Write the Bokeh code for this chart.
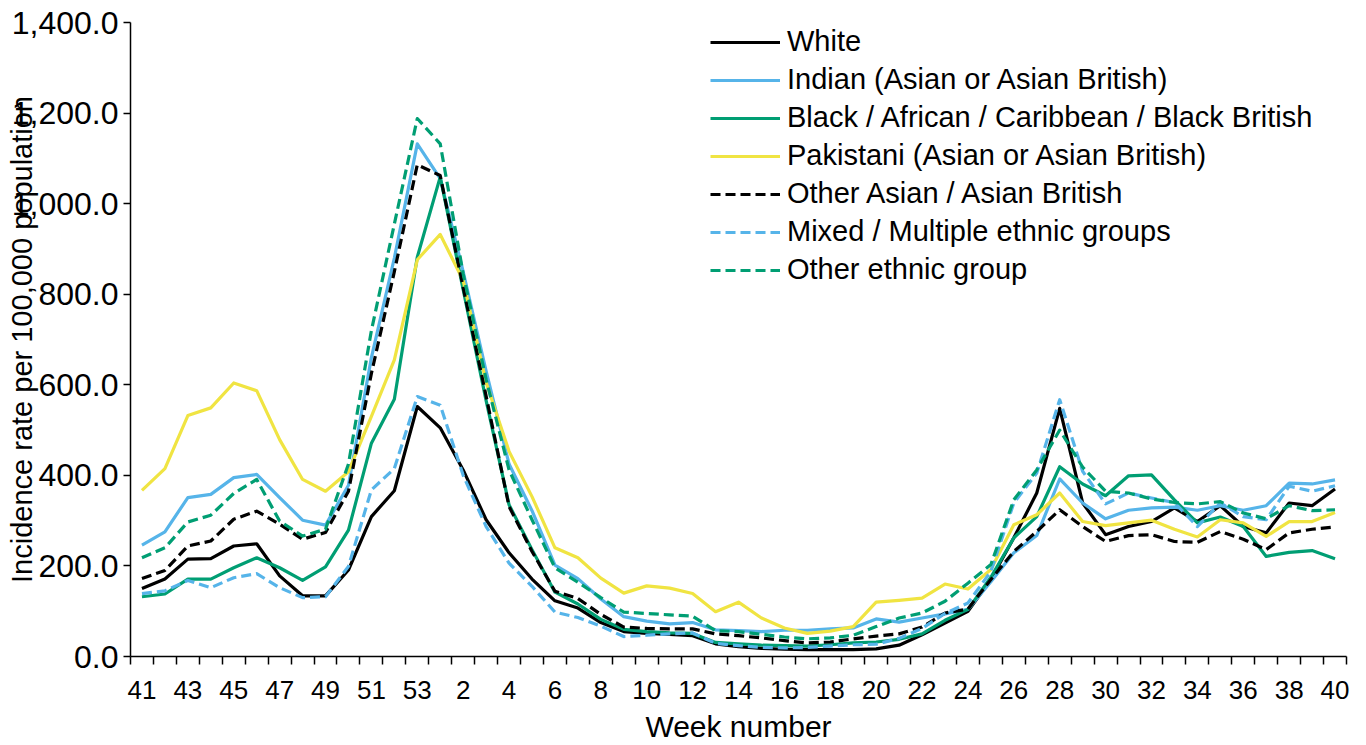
from bokeh.plotting import figure
from bokeh.models import FixedTicker, NumeralTickFormatter, Legend, LegendItem, Range1d
from bokeh.embed import file_html
from bokeh.resources import INLINE

weeks = [41, 42, 43, 44, 45, 46, 47, 48, 49, 50, 51, 52, 53,
         1, 2, 3, 4, 5, 6, 7, 8, 9, 10, 11, 12, 13, 14, 15, 16, 17, 18, 19, 20,
         21, 22, 23, 24, 25, 26, 27, 28, 29, 30, 31, 32, 33, 34, 35, 36, 37, 38, 39, 40]

white = [150, 171, 215, 216, 244, 249, 178, 134, 134,
         191, 309, 366, 552,
         505, 412, 302, 229, 171,
         123, 107, 75, 55, 51, 49, 46, 28, 22, 18, 16, 15, 15, 15,
         17, 25, 48, 74, 100, 170, 262, 361,
         548, 339, 269, 287, 298, 328, 298, 333, 287, 273, 339, 333, 370]

indian = [246, 275, 351, 358, 395, 402, 351, 301, 290,
          378, 660, 880, 1132,
          1055, 850, 630, 425, 322,
          202, 172, 127, 88, 78, 72, 75, 59, 57, 55, 58, 58, 61, 63,
          83, 76, 85, 94, 104, 165, 229, 267,
          392, 339, 304, 323, 328, 330, 323, 333, 323, 333, 383, 381, 390]

black = [132, 138, 171, 171, 196, 218, 196, 168, 198,
         279, 471, 568, 882,
         1059, 810, 565, 335, 236,
         142, 116, 82, 60, 55, 52, 51, 31, 28, 25, 24, 23, 26, 30,
         32, 38, 50, 80, 104, 175, 262, 309,
         419, 381, 355, 399, 401, 346, 295, 308, 287, 221, 230, 234, 216]

pakistani = [367, 415, 532, 549, 604, 587, 479, 391, 365,
             408, 530, 655, 876,
             932, 830, 605, 453, 353,
             240, 218, 173, 140, 156, 151, 139, 99, 120, 85, 63, 51, 56, 66,
             120, 124, 129, 160, 149, 192, 291, 313,
             361, 298, 289, 295, 301, 281, 264, 302, 295, 265, 298, 298, 318]

other_asian = [172, 190, 244, 255, 303, 321, 292, 259, 274,
               365, 625, 850, 1086,
               1062, 815, 575, 331, 232,
               144, 128, 93, 65, 62, 61, 61, 50, 46, 41, 35, 30, 32, 39,
               45, 50, 65, 96, 105, 170, 232, 276,
               324, 287, 254, 267, 269, 254, 252, 276, 259, 236, 273, 281, 286]

mixed = [139, 145, 168, 152, 174, 183, 152, 130, 132,
         199, 368, 415, 574,
         555, 400, 287, 206, 155,
         98, 86, 67, 44, 47, 50, 52, 29, 24, 20, 19, 20, 23, 26,
         27, 40, 62, 95, 118, 188, 339, 405,
         567, 409, 337, 361, 350, 340, 287, 339, 309, 302, 376, 365, 377]

other_ethnic = [218, 240, 297, 312, 360, 391, 299, 266, 281,
                425, 720, 955, 1188,
                1132, 845, 612, 412, 302,
                196, 164, 130, 98, 95, 92, 89, 57, 55, 49, 43, 39, 41, 47,
                66, 85, 96, 122, 162, 203, 346, 412,
                500, 418, 365, 361, 348, 340, 337, 342, 317, 304, 333, 322, 324]

series_names = ["White", "Indian (Asian or Asian British)",
                "Black / African / Caribbean / Black British",
                "Pakistani (Asian or Asian British)", "Other Asian / Asian British",
                "Mixed / Multiple ethnic groups", "Other ethnic group"]
series_values = [white, indian, black, pakistani, other_asian, mixed, other_ethnic]
series_colors = ["#000000", "#56B4E9", "#009E73", "#F0E442", "#000000", "#56B4E9", "#009E73"]
series_dashes = ["solid", "solid", "solid", "solid", "10 5", "10 5", "10 5"]

FONT = "Liberation Sans"
x = list(range(len(weeks)))

p = figure(width=1366, height=745, output_backend="svg", toolbar_location=None,
           x_range=Range1d(-0.5, len(weeks) - 0.5), y_range=Range1d(0, 1400),
           min_border_left=130, min_border_right=20, min_border_top=22,
           min_border_bottom=88)
p.outline_line_color = None
p.xgrid.visible = False
p.ygrid.visible = False
p.background_fill_color = "white"
p.border_fill_color = "white"

items = []
for name, vals, col, dash in zip(series_names, series_values, series_colors, series_dashes):
    r = p.line(x, vals, line_color=col, line_width=3.2, line_dash=dash, line_join="round")
    items.append(LegendItem(label=name, renderers=[r]))

# y axis
ya = p.yaxis[0]
ya.ticker = FixedTicker(ticks=list(range(0, 1401, 200)))
ya.formatter = NumeralTickFormatter(format="0,0.0")
ya.major_tick_out = 7
ya.major_tick_in = 0
ya.minor_tick_out = 0
ya.minor_tick_in = 0
ya.major_label_standoff = 5
ya.major_label_text_font = FONT
ya.major_label_text_font_size = "32px"
ya.major_label_text_color = "black"
ya.axis_line_width = 1.5
ya.axis_line_color = "black"
ya.major_tick_line_color = "black"
ya.major_tick_line_width = 1.5
ya.axis_label = "Incidence rate per 100,000 population"
ya.axis_label_text_font = FONT
ya.axis_label_text_font_size = "29px"
ya.axis_label_text_font_style = "normal"
ya.axis_label_text_color = "black"
ya.axis_label_standoff = -29

# x axis
xa = p.xaxis[0]
xa.ticker = FixedTicker(ticks=x[::2], minor_ticks=[i - 0.5 for i in range(len(weeks) + 1)])
xa.major_label_overrides = {i: str(weeks[i]) for i in x[::2]}
xa.major_tick_line_color = None
xa.major_tick_out = 8
xa.major_tick_in = 0
xa.minor_tick_out = 8
xa.minor_tick_in = 0
xa.minor_tick_line_color = "black"
xa.minor_tick_line_width = 1.5
xa.axis_line_width = 1.5
xa.axis_line_color = "black"
xa.major_label_standoff = 16
xa.major_label_text_font = FONT
xa.major_label_text_font_size = "26px"
xa.major_label_text_color = "black"
xa.axis_label = "Week number"
xa.axis_label_text_font = FONT
xa.axis_label_text_font_size = "30px"
xa.axis_label_text_font_style = "normal"
xa.axis_label_text_color = "black"
xa.axis_label_standoff = 8

legend = Legend(items=items, location=(580, 370), glyph_width=70, glyph_height=20,
                label_standoff=7, label_text_font=FONT, label_text_font_size="29px",
                label_text_color="black", label_height=20, spacing=5, padding=0,
                border_line_alpha=0, background_fill_alpha=0)
p.add_layout(legend)

open("out.html", "w").write(file_html(p, INLINE))
